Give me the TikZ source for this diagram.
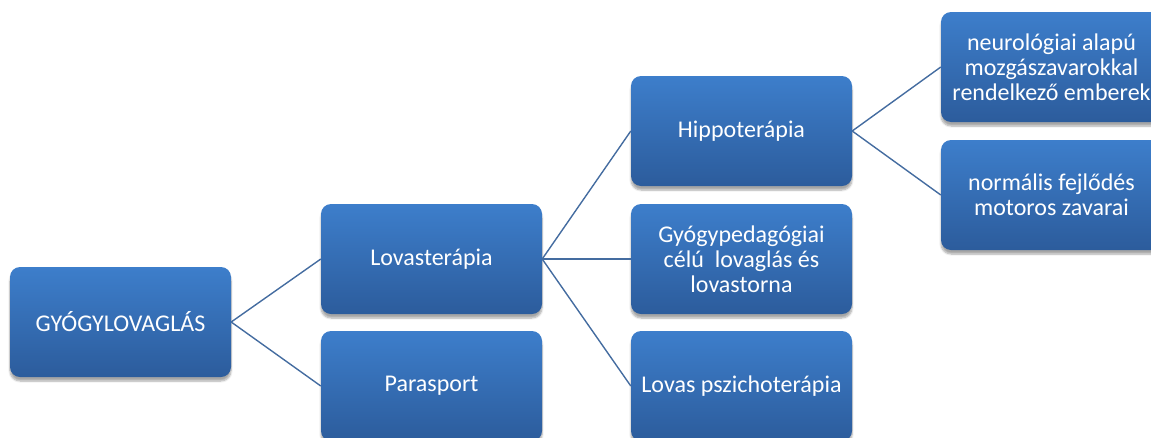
\documentclass[tikz,border=0pt]{standalone}
\usepackage{fontspec}
\setmainfont{Carlito}
\usetikzlibrary{shadows.blur}
\definecolor{boxtop}{RGB}{61,126,203}
\definecolor{boxbot}{RGB}{44,92,156}
\definecolor{linkc}{RGB}{68,108,160}
\tikzset{
  sbox/.style={rectangle, rounded corners=10pt, minimum width=221pt, minimum height=110pt,
    top color=boxtop, bottom color=boxbot, draw=none, text=white, align=center,
    inner sep=2pt, font=\fontsize{24}{25}\selectfont,
    blur shadow={shadow xshift=0pt, shadow yshift=-4pt, shadow blur steps=6, shadow opacity=35}},
  link/.style={draw=linkc, line width=1.4pt}
}
\begin{document}
\begin{tikzpicture}[x=1pt,y=-1pt]
\useasboundingbox (0,0) rectangle (1151,437);
\clip (0,0) rectangle (1151,437);
\node[sbox] (gy) at (120.5,322) {GYÓGYLOVAGLÁS};
\node[sbox] (lt) at (431.5,259) {Lovasterápia};
\node[sbox] (ps) at (431.5,386) {Parasport};
\node[sbox] (hp) at (741.5,131) {Hippoterápia};
\node[sbox] (gp) at (741.5,259) {Gyógypedagógiai\\célú\ \ lovaglás és\\lovastorna};
\node[sbox] (lp) at (741.5,386) {Lovas pszichoterápia};
\node[sbox] (nr) at (1051.5,67) {neurológiai alapú\\mozgászavarokkal\\rendelkező emberek};
\node[sbox] (nf) at (1051.5,195) {normális fejlődés\\motoros zavarai};
\draw[link] (gy.east) -- (lt.west);
\draw[link] (gy.east) -- (ps.west);
\draw[link] (lt.east) -- (hp.west);
\draw[link] (lt.east) -- (gp.west);
\draw[link] (lt.east) -- (lp.west);
\draw[link] (hp.east) -- (nr.west);
\draw[link] (hp.east) -- (nf.west);
\end{tikzpicture}
\end{document}
